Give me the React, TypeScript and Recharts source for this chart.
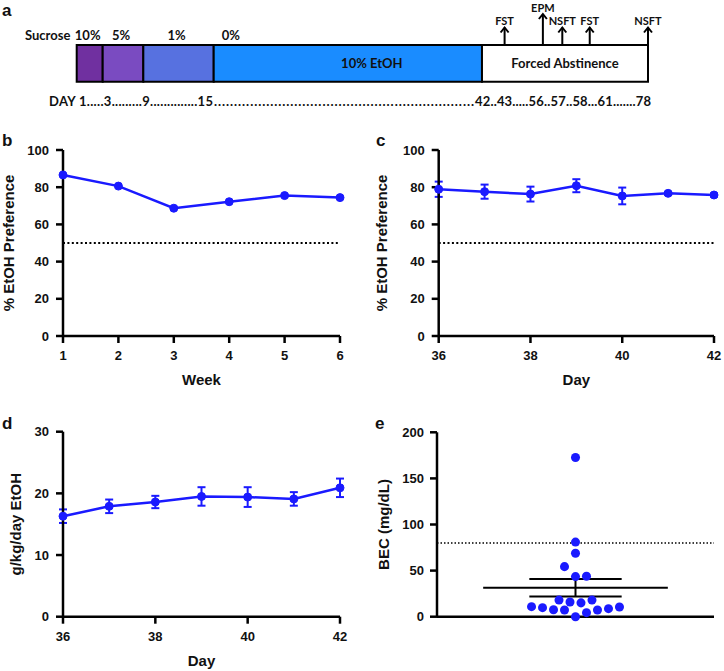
import React from 'react'
import {
  ComposedChart,
  LineChart,
  ScatterChart,
  Line,
  Scatter,
  XAxis,
  YAxis,
  ErrorBar,
  ReferenceArea,
  ReferenceLine,
} from 'recharts'

const BLUE = '#1a1aff'
const ARIAL = '"Liberation Sans", Arial, sans-serif'
const SCHEME = 'Lato, "Open Sans", sans-serif'

// a: drinking schedule (schematic widths, % of the bar)
const PHASE_SUCROSE = ['10%', '5%', '1%', '0%', '']
const PHASE_NAMES = ['', '', '', '10% EtOH', 'Forced Abstinence']
const PHASE_SPAN = [4.55, 7.11, 12.32, 46.96, 29.06]
const PHASE_COLORS = ['#7030a0', '#7a4bc1', '#5771e0', '#1a8cff', '#ffffff']
const TEST_NAMES = ['FST', 'EPM', 'NSFT', 'FST', 'NSFT']
const TEST_POS = [74.9, 81.6, 85.0, 89.8, 100]
const TEST_TOP = [2.75, 1.4, 2.75, 2.75, 2.75]
const DAY_START = 'DAY 1.....3.........9..............15'
const DAY_DRINK = '.'.repeat(65)
const DAY_END = '42..43.....56..57..58...61.......78'

// b: weekly preference
const WEEKS = [1, 2, 3, 4, 5, 6]
const WEEK_PREF = [86.6, 80.6, 68.7, 72.2, 75.5, 74.4]

// c, d: last week of drinking
const DAYS = [36, 37, 38, 39, 40, 41, 42]
const DAY_TICKS = [36, 38, 40, 42]
const DAY_PREF = [78.9, 77.6, 76.3, 80.8, 75.3, 76.7, 75.8]
const DAY_PREF_SEM = [4.1, 3.8, 4.0, 3.5, 4.5, 0.8, 0.8]
const DAY_DOSE = [16.3, 17.9, 18.6, 19.5, 19.4, 19.1, 20.9]
const DAY_DOSE_SEM = [1.1, 1.1, 1.0, 1.5, 1.6, 1.1, 1.5]

// e: blood ethanol concentration, one dot per mouse
const BEC = [172.6, 80.9, 68.8, 54.3, 43.5, 43.9, 18, 16, 15, 18, 10.9, 9.8, 7.6, 7.3, 0, 4.4, 7.3, 8.7, 10.5]
const BEC_COL = [0, 0, 0, -1, 0, 1, -1.5, -0.5, 0.5, 1.5, -4, -3, -2, -1, 0, 1, 2, 3, 4]

const phases = PHASE_SPAN.map((span, i) => {
  const start = PHASE_SPAN.slice(0, i).reduce((s, v) => s + v, 0)
  return { start, end: start + span, sucrose: PHASE_SUCROSE[i], name: PHASE_NAMES[i], color: PHASE_COLORS[i] }
})
const tests = TEST_NAMES.map((name, i) => ({ name, x: TEST_POS[i], y: TEST_TOP[i] }))
const weekData = WEEKS.map((week, i) => ({ week, pref: WEEK_PREF[i] }))
const prefData = DAYS.map((day, i) => ({ day, pref: DAY_PREF[i], sem: DAY_PREF_SEM[i] }))
const doseData = DAYS.map((day, i) => ({ day, dose: DAY_DOSE[i], sem: DAY_DOSE_SEM[i] }))
const becData = BEC.map((bec, i) => ({ col: BEC_COL[i], bec }))

const becMean = BEC.reduce((s, v) => s + v, 0) / BEC.length
const becSd = Math.sqrt(BEC.reduce((s, v) => s + (v - becMean) ** 2, 0) / (BEC.length - 1))
const becSem = becSd / Math.sqrt(BEC.length)

const axisLine = { stroke: '#000', strokeWidth: 2.5 }
const tick = { fill: '#111', fontSize: 13, fontWeight: 700, fontFamily: ARIAL }
const title = { fill: '#111', fontSize: 15, fontWeight: 700, fontFamily: ARIAL }

function xTitle(value: string, offset: number) {
  return { value, position: 'insideBottom' as const, offset, ...title, style: { fontFamily: ARIAL } }
}
function yTitle(value: string, offset: number) {
  return {
    value,
    angle: -90,
    position: 'insideLeft' as const,
    offset,
    ...title,
    style: { textAnchor: 'middle', fontFamily: ARIAL },
  }
}

const BAR_TOP = 4.5
const BAR_BOTTOM = 8.17

function Schedule() {
  return (
    <ComposedChart width={724} height={120} margin={{ top: 0, right: 76, bottom: 0, left: 76.7 }}>
      <XAxis type="number" dataKey="x" domain={[0, 100]} hide />
      <YAxis type="number" dataKey="y" domain={[0, 12]} reversed hide />
      {phases.map((p, i) => (
        <ReferenceArea
          key={i}
          x1={p.start}
          x2={p.end}
          y1={BAR_TOP}
          y2={BAR_BOTTOM}
          fill={p.color}
          fillOpacity={1}
          stroke="#000"
          strokeWidth={2}
          label={(props: any) => {
            const vb = props.viewBox || {}
            const left = i === 3
            return (
              <g fontFamily={SCHEME} fontWeight={700} fill="#111">
                {p.sucrose && (
                  <text
                    x={left ? vb.x + 8 : vb.x + vb.width / 2 - 2}
                    y={vb.y - 5}
                    fontSize={13}
                    textAnchor={left ? 'start' : 'middle'}
                  >
                    {p.sucrose}
                  </text>
                )}
                {p.name && (
                  <text
                    x={vb.x + vb.width / 2 + (i === 3 ? 24 : 0)}
                    y={vb.y + vb.height / 2 + 4.5}
                    fontSize={13}
                    textAnchor="middle"
                  >
                    {p.name}
                  </text>
                )}
              </g>
            )
          }}
        />
      ))}
      {tests.map((t, i) => (
        <ReferenceLine
          key={i}
          segment={[{ x: t.x, y: BAR_TOP }, { x: t.x, y: t.y }]}
          stroke="#000"
          strokeWidth={2}
          ifOverflow="visible"
        />
      ))}
      <Scatter
        data={tests}
        isAnimationActive={false}
        shape={(props: any) => (
          <g>
            <path
              d={`M${props.cx - 4},${props.cy + 5} L${props.cx},${props.cy} L${props.cx + 4},${props.cy + 5}`}
              fill="none"
              stroke="#000"
              strokeWidth={2}
            />
            <text
              x={props.cx}
              y={props.cy - 2.5}
              textAnchor="middle"
              fontSize={11}
              fontWeight={700}
              fontFamily={SCHEME}
              fill="#111"
            >
              {props.payload.name}
            </text>
          </g>
        )}
      />
    </ComposedChart>
  )
}

function WeekPreference() {
  return (
    <LineChart width={362} height={270} data={weekData} margin={{ top: 20, right: 22, bottom: 4, left: 0 }}>
      <XAxis
        type="number"
        dataKey="week"
        domain={[1, 6]}
        ticks={WEEKS}
        axisLine={axisLine}
        tickLine={axisLine}
        tickSize={7}
        tickMargin={8}
        tick={tick}
        height={60}
        label={xTitle('Week', 11)}
      />
      <YAxis
        type="number"
        domain={[0, 100]}
        ticks={[0, 20, 40, 60, 80, 100]}
        axisLine={axisLine}
        tickLine={axisLine}
        tickSize={7}
        tickMargin={7}
        tick={tick}
        width={63}
        label={yTitle('% EtOH Preference', 9)}
      />
      <ReferenceLine y={50} stroke="#000" strokeWidth={2} strokeDasharray="2 2.4" />
      <Line
        dataKey="pref"
        stroke={BLUE}
        strokeWidth={2.5}
        dot={{ r: 4, fill: BLUE, stroke: BLUE, strokeWidth: 1 }}
        isAnimationActive={false}
      />
    </LineChart>
  )
}

function DayPreference() {
  return (
    <LineChart width={362} height={270} data={prefData} margin={{ top: 20, right: 10, bottom: 4, left: 0 }}>
      <XAxis
        type="number"
        dataKey="day"
        domain={[36, 42]}
        ticks={DAY_TICKS}
        axisLine={axisLine}
        tickLine={axisLine}
        tickSize={7}
        tickMargin={8}
        tick={tick}
        height={60}
        label={xTitle('Day', 11)}
      />
      <YAxis
        type="number"
        domain={[0, 100]}
        ticks={[0, 20, 40, 60, 80, 100]}
        axisLine={axisLine}
        tickLine={axisLine}
        tickSize={7}
        tickMargin={7}
        tick={tick}
        width={76.7}
        label={yTitle('% EtOH Preference', 20)}
      />
      <ReferenceLine y={50} stroke="#000" strokeWidth={2} strokeDasharray="2 2.4" />
      <Line
        dataKey="pref"
        stroke={BLUE}
        strokeWidth={2.5}
        dot={{ r: 4, fill: BLUE, stroke: BLUE, strokeWidth: 1 }}
        isAnimationActive={false}
      >
        <ErrorBar dataKey="sem" width={4} stroke={BLUE} strokeWidth={2} isAnimationActive={false} />
      </Line>
    </LineChart>
  )
}

function DayDose() {
  return (
    <LineChart width={362} height={259} data={doseData} margin={{ top: 19.7, right: 22, bottom: 0, left: 0 }}>
      <XAxis
        type="number"
        dataKey="day"
        domain={[36, 42]}
        ticks={DAY_TICKS}
        axisLine={axisLine}
        tickLine={axisLine}
        tickSize={7}
        tickMargin={8}
        tick={tick}
        height={54.3}
        label={xTitle('Day', 5.3)}
      />
      <YAxis
        type="number"
        domain={[0, 30]}
        ticks={[0, 10, 20, 30]}
        axisLine={axisLine}
        tickLine={axisLine}
        tickSize={7}
        tickMargin={7}
        tick={tick}
        width={63}
        label={yTitle('g/kg/day EtOH', 16)}
      />
      <Line
        dataKey="dose"
        stroke={BLUE}
        strokeWidth={2.5}
        dot={{ r: 4, fill: BLUE, stroke: BLUE, strokeWidth: 1 }}
        isAnimationActive={false}
      >
        <ErrorBar dataKey="sem" width={4} stroke={BLUE} strokeWidth={2} isAnimationActive={false} />
      </Line>
    </LineChart>
  )
}

function BloodEthanol() {
  const line = { stroke: '#000', strokeWidth: 2 }
  return (
    <ScatterChart width={362} height={259} margin={{ top: 20.3, right: 10, bottom: 0, left: 0 }}>
      <XAxis
        type="number"
        dataKey="col"
        domain={[-12.6, 12.6]}
        axisLine={axisLine}
        tickLine={false}
        tick={false}
        height={54.3}
      />
      <YAxis
        type="number"
        dataKey="bec"
        domain={[0, 200]}
        ticks={[0, 50, 100, 150, 200]}
        axisLine={axisLine}
        tickLine={axisLine}
        tickSize={7}
        tickMargin={6}
        tick={tick}
        width={75}
        label={yTitle('BEC (mg/dL)', 22)}
      />
      <ReferenceLine y={80} stroke="#000" strokeWidth={1.5} strokeDasharray="1.5 2" />
      <Scatter data={becData} fill={BLUE} isAnimationActive={false} />
      <ReferenceLine segment={[{ x: -8.4, y: becMean }, { x: 8.4, y: becMean }]} {...line} />
      <ReferenceLine segment={[{ x: -4.2, y: becMean + becSem }, { x: 4.2, y: becMean + becSem }]} {...line} />
      <ReferenceLine segment={[{ x: -4.2, y: becMean - becSem }, { x: 4.2, y: becMean - becSem }]} {...line} />
      <ReferenceLine segment={[{ x: 0, y: becMean - becSem }, { x: 0, y: becMean + becSem }]} {...line} />
    </ScatterChart>
  )
}

const at = (left: number, top: number): React.CSSProperties => ({ position: 'absolute', left, top })

export default function App() {
  return (
    <div
      style={{
        position: 'absolute',
        left: 0,
        top: 0,
        width: 724,
        height: 671,
        background: '#fff',
        overflow: 'hidden',
        fontFamily: ARIAL,
      }}
    >
      <div style={at(0, 0)}><Schedule /></div>
      <div style={at(0, 130)}><WeekPreference /></div>
      <div style={at(362, 130)}><DayPreference /></div>
      <div style={at(0, 412)}><DayDose /></div>
      <div style={at(362, 412)}><BloodEthanol /></div>
      <svg width={724} height={671} style={{ ...at(0, 0), pointerEvents: 'none' }}>
        <g fontFamily={ARIAL} fontWeight={700} fontSize={17} fill="#111">
          <text x={2} y={15.5}>a</text>
          <text x={2} y={146}>b</text>
          <text x={376} y={146}>c</text>
          <text x={2} y={429}>d</text>
          <text x={375} y={429}>e</text>
        </g>
        <g fontFamily={SCHEME} fontWeight={700} fontSize={13} fill="#111">
          <text x={25} y={40}>Sucrose</text>
          <text x={49} y={105.7} textLength={164} lengthAdjust="spacing">{DAY_START}</text>
          <text x={214} y={105.7} textLength={260} lengthAdjust="spacing">{DAY_DRINK}</text>
          <text x={475} y={105.7} textLength={176} lengthAdjust="spacing">{DAY_END}</text>
        </g>
      </svg>
    </div>
  )
}
